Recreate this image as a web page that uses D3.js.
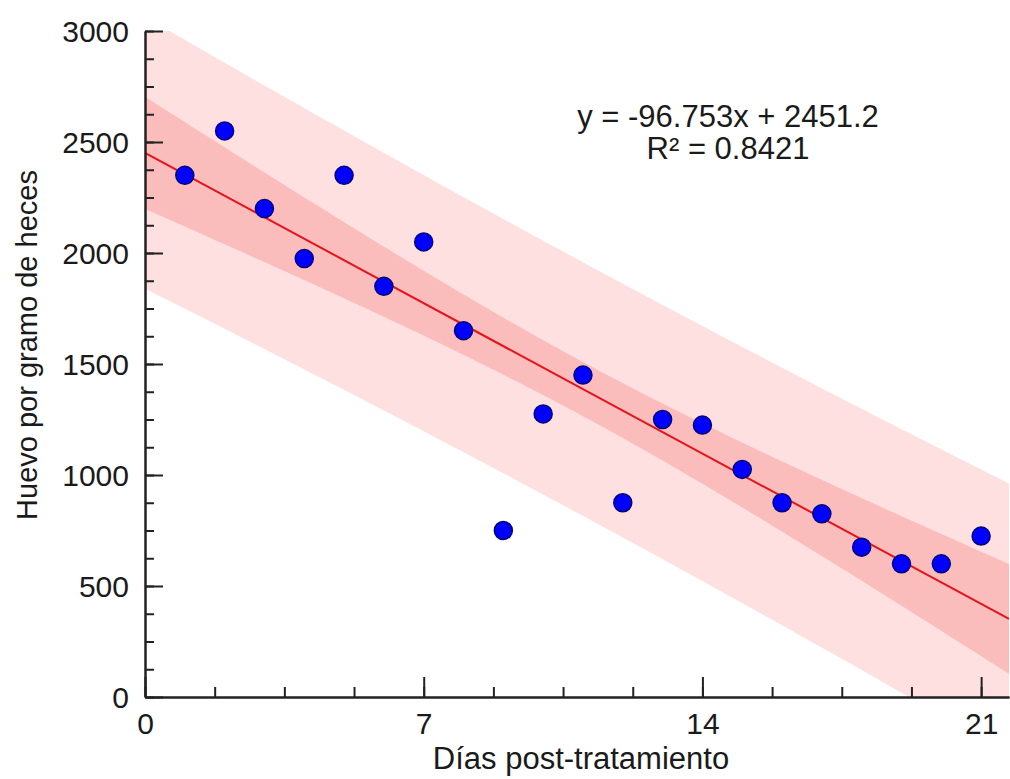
<!DOCTYPE html>
<html>
<head>
<meta charset="utf-8">
<script src="https://cdn.jsdelivr.net/npm/d3@7"></script>
<style>
  body { margin: 0; background: #fff; }
  text { font-family: "Liberation Sans", Arial, sans-serif; fill: #1a1a1a; }
  .axis path, .axis line { stroke: #222; stroke-width: 2; }
</style>
</head>
<body>
<div id="chart-area"></div>
<script>
// data
const days = [1, 2, 3, 4, 5, 6, 7, 8, 9, 10, 11, 12, 13, 14, 15, 16, 17, 18, 19, 20, 21];
const eggs = [2350, 2550, 2200, 1975, 2350, 1850, 2050, 1650, 750, 1275, 1450, 875, 1250, 1225, 1025, 875, 825, 675, 600, 600, 725];
const xTicks = [0, 7, 14, 21];
const yTicks = [0, 500, 1000, 1500, 2000, 2500, 3000];
const equationLines = ["y = -96.753x + 2451.2", "R\u00b2 = 0.8421"];

const canvas_dims = { width: 1010, height: 779 };
const plot = { left: 145, right: 1009, top: 31, bottom: 697 };

const svg = d3
  .select("#chart-area")
  .append("svg")
  .attr("width", canvas_dims.width)
  .attr("height", canvas_dims.height);

const x = d3.scaleLinear().domain([0, 21.7]).range([plot.left, plot.right]);
const y = d3.scaleLinear().domain([0, 3000]).range([plot.bottom, plot.top]);

// least squares fit + 95% bands
const n = days.length;
const mx = d3.mean(days), my = d3.mean(eggs);
const sxx = d3.sum(days, d => (d - mx) ** 2);
const sxy = d3.sum(days, (d, i) => (d - mx) * (eggs[i] - my));
const slope = sxy / sxx;
const intercept = my - slope * mx;
const sse = d3.sum(days, (d, i) => (eggs[i] - (intercept + slope * d)) ** 2);
const s = Math.sqrt(sse / (n - 2));
const tval = 2.093; // t(0.975, 19)

const xs = d3.range(0, 21.71, 0.1);
const fit = xv => intercept + slope * xv;
const ci = xv => tval * s * Math.sqrt(1 / n + (xv - mx) ** 2 / sxx);
const pi = xv => tval * s * Math.sqrt(1 + 1 / n + (xv - mx) ** 2 / sxx);

svg.append("clipPath").attr("id", "clip")
  .append("rect")
  .attr("x", plot.left).attr("y", plot.top)
  .attr("width", plot.right - plot.left).attr("height", plot.bottom - plot.top);

const bands = svg.append("g").attr("clip-path", "url(#clip)");

bands.append("path")
  .datum(xs)
  .attr("fill", "#fee0e0")
  .attr("d", d3.area().x(d => x(d)).y0(d => y(fit(d) - pi(d))).y1(d => y(fit(d) + pi(d))));

bands.append("path")
  .datum(xs)
  .attr("fill", "#fbbcbc")
  .attr("d", d3.area().x(d => x(d)).y0(d => y(fit(d) - ci(d))).y1(d => y(fit(d) + ci(d))));

bands.append("path")
  .datum([0, 21.7])
  .attr("fill", "none")
  .attr("stroke", "#e3141b")
  .attr("stroke-width", 2)
  .attr("d", d3.line().x(d => x(d)).y(d => y(fit(d))));

// axes
const yMinor = d3.axisLeft(y).tickValues(d3.range(0, 3001, 125)).tickSize(-9).tickSizeOuter(0).tickFormat("");
svg.append("g").attr("class", "axis").attr("transform", `translate(${plot.left},0)`).call(yMinor);
const yAxis = d3.axisLeft(y).tickValues(yTicks).tickSize(-18).tickSizeOuter(0).tickPadding(16).tickFormat(d3.format("d"));
svg.append("g").attr("class", "axis").attr("transform", `translate(${plot.left},0)`).call(yAxis)
  .selectAll("text").attr("font-size", "30px").attr("dy", "0.36em");

const xMinor = d3.axisBottom(x).tickValues(d3.range(0, 21.7, 1.75)).tickSize(-10).tickSizeOuter(0).tickFormat("");
svg.append("g").attr("class", "axis").attr("transform", `translate(0,${plot.bottom})`).call(xMinor);
const xAxis = d3.axisBottom(x).tickValues(xTicks).tickSize(-20).tickSizeOuter(0).tickPadding(16);
svg.append("g").attr("class", "axis").attr("transform", `translate(0,${plot.bottom})`).call(xAxis)
  .selectAll("text").attr("font-size", "30px");

svg.selectAll(".axis text").attr("font-family", "Liberation Sans, Arial, sans-serif").attr("fill", "#1a1a1a");

// points
svg.append("g")
  .selectAll("circle")
  .data(days)
  .enter()
  .append("circle")
  .attr("cx", d => x(d))
  .attr("cy", (d, i) => y(eggs[i]))
  .attr("r", 9)
  .attr("fill", "#0000ff")
  .attr("stroke", "#00007a")
  .attr("stroke-width", 1.5);

// labels
svg.append("text")
  .attr("x", 581)
  .attr("y", 769)
  .attr("font-size", "31px")
  .attr("text-anchor", "middle")
  .text("D\u00edas post-tratamiento");

svg.append("text")
  .attr("transform", "translate(37,345) rotate(-90)")
  .attr("font-size", "29px")
  .attr("text-anchor", "middle")
  .text("Huevo por gramo de heces");

svg.append("g")
  .selectAll("text")
  .data(equationLines)
  .enter()
  .append("text")
  .attr("x", 728)
  .attr("y", (d, i) => 127 + i * 32)
  .attr("font-size", "31px")
  .attr("text-anchor", "middle")
  .text(d => d);
</script>
</body>
</html>
